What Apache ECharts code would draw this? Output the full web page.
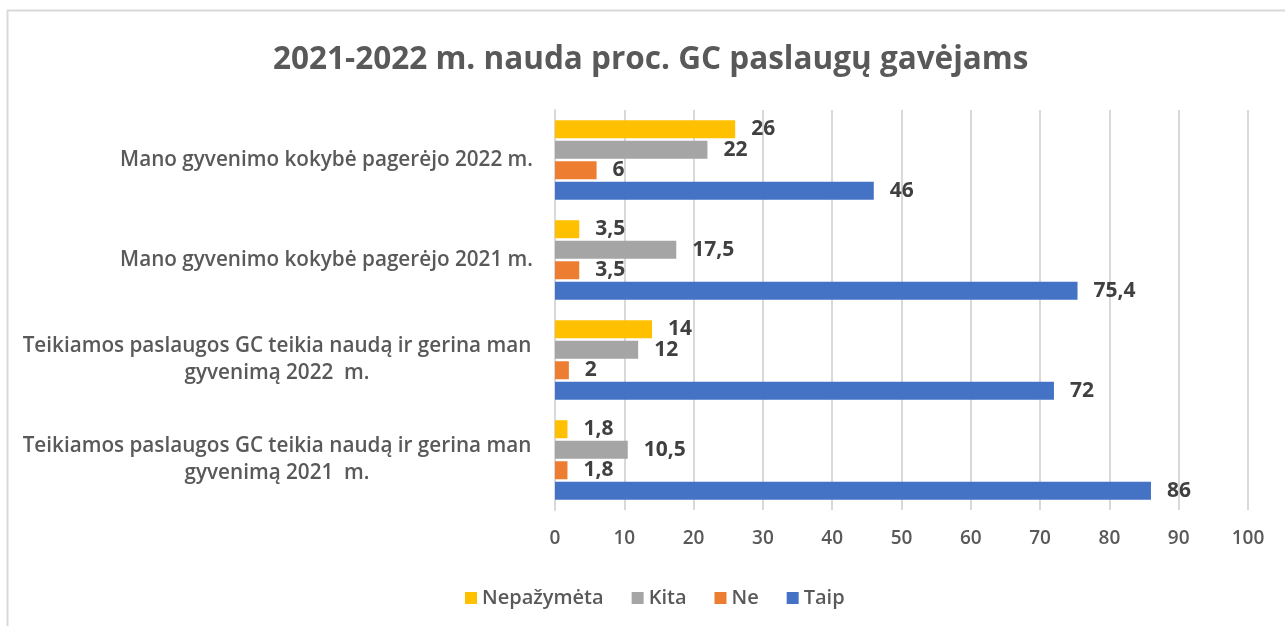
<!DOCTYPE html>
<html>
<head>
<meta charset="utf-8">
<script src="https://cdn.jsdelivr.net/npm/echarts@6/dist/echarts.min.js"></script>
<style>
html,body{margin:0;padding:0;background:#fff;}
#c{width:1285px;height:626px;}
</style>
</head>
<body>
<div id="c"></div>
<script>
const titleText = '2021-2022 m. nauda proc. GC paslaugų gavėjams';
const categories = [
  'Teikiamos paslaugos GC teikia naudą ir gerina man\ngyvenimą 2021  m.',
  'Teikiamos paslaugos GC teikia naudą ir gerina man\ngyvenimą 2022  m.',
  'Mano gyvenimo kokybė pagerėjo 2021 m.',
  'Mano gyvenimo kokybė pagerėjo 2022 m.'
];
const seriesNames = ['Nepažymėta', 'Kita', 'Ne', 'Taip'];
const nepazymeta = [1.8, 14, 3.5, 26];
const kita = [10.5, 12, 17.5, 22];
const ne = [1.8, 2, 3.5, 6];
const taip = [86, 72, 75.4, 46];
const colors = ['#FFC000', '#A5A5A5', '#ED7D31', '#4472C4'];

const FONT = '"Open Sans", sans-serif';
const chart = echarts.init(document.getElementById('c'));

function mkSeries(name, data, color) {
  return {
    name: name,
    type: 'bar',
    data: data,
    barWidth: 18,
    barGap: '14%',
    barCategoryGap: '20%',
    itemStyle: { color: color },
    label: {
      show: true,
      position: 'right',
      distance: 16,
      color: '#404040',
      fontFamily: FONT,
      fontWeight: 'bold',
      fontSize: 21,
      formatter: p => String(p.value).replace('.', ',')
    }
  };
}

chart.setOption({
  animation: false,
  textStyle: { fontFamily: FONT },
  graphic: [{
    type: 'rect',
    shape: { x: 7.5, y: 10.5, width: 1400, height: 700 },
    style: { fill: 'none', stroke: '#d9d9d9', lineWidth: 2 },
    silent: true, z: -10
  }],
  title: {
    text: titleText,
    left: 268,
    top: 39,
    textStyle: { fontFamily: FONT, fontSize: 31.5, fontWeight: 'bold', color: '#595959' }
  },
  legend: {
    data: seriesNames,
    left: 460,
    top: 583,
    itemWidth: 12,
    itemHeight: 12,
    itemGap: 28,
    icon: 'rect',
    textStyle: { fontFamily: FONT, fontSize: 20, fontWeight: 600, color: '#595959' }
  },
  grid: { left: 555, right: 37, top: 110, bottom: 116, containLabel: false },
  xAxis: {
    type: 'value',
    min: 0, max: 100, interval: 10,
    axisLine: { show: false },
    axisTick: { show: false },
    splitLine: { lineStyle: { color: '#d9d9d9', width: 2 } },
    axisLabel: { color: '#595959', fontSize: 19, fontWeight: 600, fontFamily: FONT, margin: 19 }
  },
  yAxis: {
    type: 'category',
    data: categories,
    axisLine: { show: true, lineStyle: { color: '#d9d9d9', width: 2 } },
    axisTick: { show: false },
    axisLabel: {
      margin: 22,
      color: '#595959',
      fontFamily: FONT,
      fontSize: 20.7,
      fontWeight: 600,
      lineHeight: 27,
      formatter: function (v) {
        if (v.indexOf('\n') >= 0) {
          return v.split('\n').map(s => '{c|' + s + '}').join('\n');
        }
        return v;
      },
      rich: {
        c: { width: 512, align: 'center', fontSize: 20.7, fontWeight: 600, color: '#595959', fontFamily: FONT, lineHeight: 27 }
      }
    }
  },
  series: [
    mkSeries(seriesNames[0], nepazymeta, colors[0]),
    mkSeries(seriesNames[1], kita, colors[1]),
    mkSeries(seriesNames[2], ne, colors[2]),
    mkSeries(seriesNames[3], taip, colors[3])
  ]
});
</script>
</body>
</html>
